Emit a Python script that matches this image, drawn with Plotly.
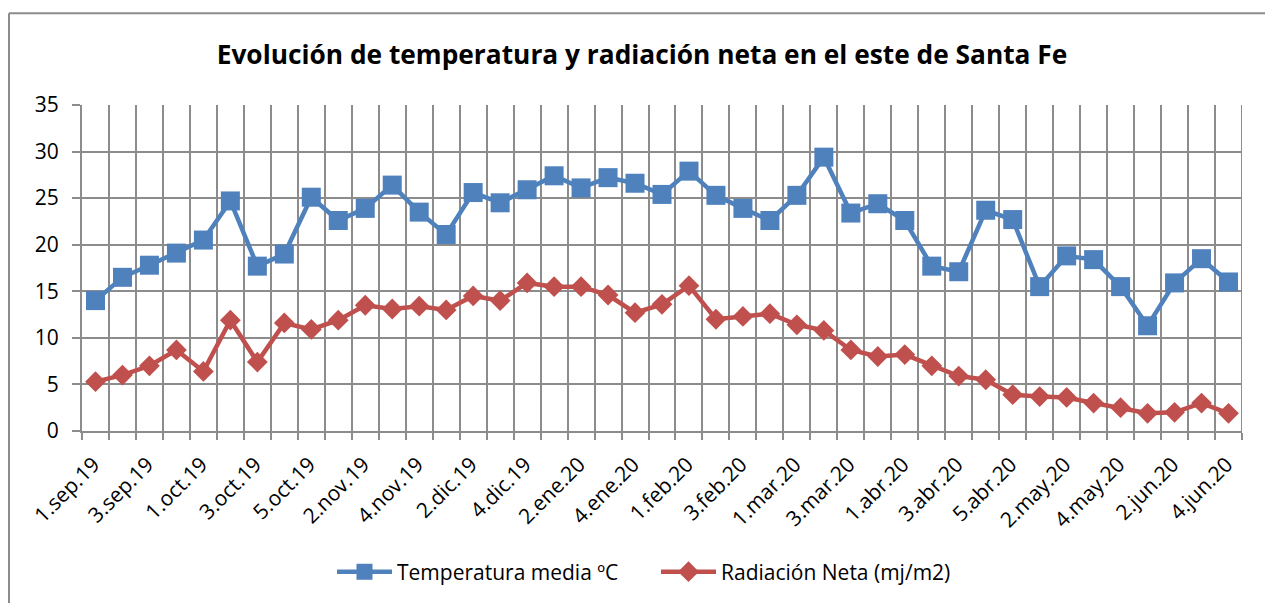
import plotly.graph_objects as go

categories = [
    "1.sep.19", "2.sep.19", "3.sep.19", "4.sep.19",
    "1.oct.19", "2.oct.19", "3.oct.19", "4.oct.19", "5.oct.19",
    "1.nov.19", "2.nov.19", "3.nov.19", "4.nov.19",
    "1.dic.19", "2.dic.19", "3.dic.19", "4.dic.19",
    "1.ene.20", "2.ene.20", "3.ene.20", "4.ene.20", "5.ene.20",
    "1.feb.20", "2.feb.20", "3.feb.20", "4.feb.20",
    "1.mar.20", "2.mar.20", "3.mar.20", "4.mar.20",
    "1.abr.20", "2.abr.20", "3.abr.20", "4.abr.20", "5.abr.20",
    "1.may.20", "2.may.20", "3.may.20", "4.may.20",
    "1.jun.20", "2.jun.20", "3.jun.20", "4.jun.20",
]

temperatura = [
    14.0, 16.5, 17.8, 19.1,
    20.5, 24.7, 17.7, 19.0, 25.1,
    22.6, 23.9, 26.4, 23.5,
    21.1, 25.6, 24.5, 25.9,
    27.4, 26.1, 27.2, 26.6, 25.4,
    27.9, 25.3, 23.9, 22.6,
    25.3, 29.4, 23.4, 24.4,
    22.6, 17.7, 17.1, 23.7, 22.7,
    15.5, 18.8, 18.4, 15.5,
    11.3, 15.9, 18.5, 16.0,
]

radiacion = [
    5.3, 6.0, 7.0, 8.7,
    6.4, 11.9, 7.4, 11.6, 10.9,
    11.9, 13.5, 13.1, 13.4,
    13.0, 14.5, 14.0, 15.9,
    15.5, 15.5, 14.6, 12.7, 13.6,
    15.6, 12.0, 12.3, 12.6,
    11.4, 10.8, 8.7, 8.0,
    8.2, 7.0, 5.9, 5.5, 3.9,
    3.7, 3.6, 3.0, 2.5,
    1.9, 2.0, 3.0, 1.9,
]

title_text = "Evolución de temperatura y radiación neta en el este de Santa Fe"
name_temp = "Temperatura media ºC"
name_rad = "Radiación Neta (mj/m2)"

idx = list(range(len(categories)))
tick_idx = idx[::2]
tick_lbl = categories[::2]

FONT = "Open Sans"
BLUE = "#4F81BD"
RED = "#C0504D"
GRID = "#8C8C8C"

fig = go.Figure()
fig.add_trace(go.Scatter(
    x=idx, y=temperatura, name=name_temp, mode="lines+markers",
    line=dict(color=BLUE, width=4.5),
    marker=dict(symbol="square", size=19, color=BLUE),
))
fig.add_trace(go.Scatter(
    x=idx, y=radiacion, name=name_rad, mode="lines+markers",
    line=dict(color=RED, width=4.5),
    marker=dict(symbol="diamond", size=16, color=RED),
))

# page has an 8px body margin: the figure starts at page (8, 8)
OFF = 8
W, H = 1273 - OFF, 603 - OFF
L, R, T, B = 82 - OFF, 31, 105 - OFF, 171
PW, PH = W - L - R, H - T - B

def px_x(page_x):
    return (page_x - OFF - L) / PW

def px_y(page_y):
    return (H - B - (page_y - OFF)) / PH

fig.update_layout(
    width=W, height=H,
    margin=dict(l=L, r=R, t=T, b=B, pad=0),
    paper_bgcolor="white", plot_bgcolor="white",
    font=dict(family=FONT, size=21, color="black"),
    title=dict(text="<b>" + title_text + "</b>", x=(642 - OFF) / W, xanchor="center",
               y=1 - (55 - OFF) / H, yanchor="middle",
               font=dict(family=FONT, size=26.3, color="black")),
    showlegend=True,
    legend=dict(orientation="h", x=px_x(332), xanchor="left",
                y=px_y(572), yanchor="middle",
                font=dict(family=FONT, size=21), itemwidth=55,
                entrywidth=254, traceorder="normal"),
    xaxis=dict(
        range=[-0.5, len(categories) - 0.5],
        tickmode="array", tickvals=tick_idx, ticktext=tick_lbl,
        tickangle=-45, showgrid=False, ticks="", zeroline=False,
        showline=True, linecolor=GRID, linewidth=2,
        tickfont=dict(family=FONT, size=21),
        ticklabelstandoff=11, ticklabelshift=-2,
        minor=dict(tick0=-0.5, dtick=1, showgrid=True, gridcolor=GRID,
                   gridwidth=2, ticks="outside", ticklen=7, tickcolor=GRID,
                   tickwidth=2),
        fixedrange=True,
    ),
    yaxis=dict(
        range=[0, 35], dtick=5, tick0=0,
        showgrid=True, gridcolor=GRID, gridwidth=2,
        ticks="outside", ticklen=8, tickcolor=GRID, tickwidth=2,
        showline=True, linecolor=GRID, linewidth=2, zeroline=False,
        tickfont=dict(family=FONT, size=21),
        ticklabelstandoff=9,
        fixedrange=True,
    ),
)

# right border of plot area
fig.add_shape(type="line", xref="x", yref="paper", x0=len(categories) - 0.5,
              x1=len(categories) - 0.5, y0=0, y1=1,
              line=dict(color=GRID, width=2))
# chart outer border (left and top edges visible)
bx = px_x(OFF + 1)
by = px_y(13)
fig.add_shape(type="line", xref="paper", yref="paper", x0=bx, x1=bx,
              y0=by, y1=px_y(620), line=dict(color=GRID, width=2))
fig.add_shape(type="line", xref="paper", yref="paper", x0=bx,
              x1=px_x(1290), y0=by, y1=by,
              line=dict(color=GRID, width=2))

fig.write_html("out.html")
